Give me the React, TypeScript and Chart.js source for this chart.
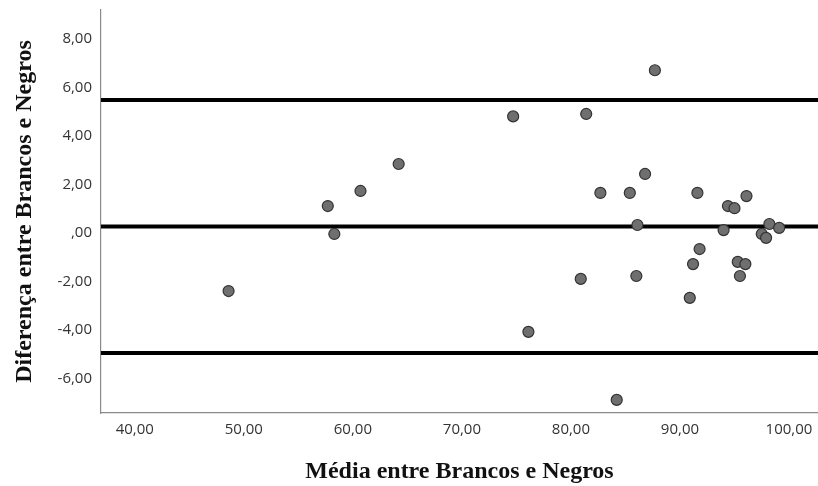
import React, { useEffect, useRef } from "react";
import { Chart, registerables } from "chart.js";

Chart.register(...registerables);

// Média (x) and Diferença (y) for each pair
const meanValues = [
  48.6, 57.7, 58.3, 60.7, 64.2, 74.7, 76.1, 80.9, 81.4, 82.7, 84.2, 85.4, 86.0, 86.1, 86.8, 87.7,
  90.9, 91.2, 91.6, 91.8, 94.0, 94.4, 95.0, 95.3, 95.5, 96.0, 96.1, 97.5, 97.9, 98.2, 99.1,
];
const diffValues = [
  -2.39, 1.11, -0.04, 1.73, 2.84, 4.8, -4.07, -1.89, 4.9, 1.65, -6.87, 1.65, -1.77, 0.33, 2.43, 6.7,
  -2.67, -1.28, 1.65, -0.66, 0.12, 1.11, 1.02, -1.19, -1.77, -1.28, 1.52, -0.04, -0.2, 0.37, 0.21,
];

// Bland-Altman reference lines: upper limit, mean difference, lower limit
const referenceLines = [5.47, 0.27, -4.94];

const xAxisRange = [36.9, 102.66];
const yAxisRange = [-7.41, 9.18];

const xTickValues = [40, 50, 60, 70, 80, 90, 100];
const xTickLabels = ["40,00", "50,00", "60,00", "70,00", "80,00", "90,00", "100,00"];
const yTickValues = [-6, -4, -2, 0, 2, 4, 6, 8];
const yTickLabels = ["-6,00", "-4,00", "-2,00", ",00", "2,00", "4,00", "6,00", "8,00"];

const xTitle = "Média entre Brancos e Negros";
const yTitle = "Diferença entre Brancos e Negros";

export default function App() {
  const canvasRef = useRef<HTMLCanvasElement | null>(null);

  useEffect(() => {
    if (!canvasRef.current) return;
    const points = meanValues.map((x, i) => ({ x, y: diffValues[i] }));
    const lineSets = referenceLines.map((v) => ({
      label: "ref " + v,
      data: [
        { x: xAxisRange[0], y: v },
        { x: xAxisRange[1], y: v },
      ],
      showLine: true,
      borderColor: "#000000",
      borderWidth: 4,
      pointRadius: 0,
      pointHoverRadius: 0,
    }));
    const tickFont = { family: "Open Sans", size: 15 };
    const titleFont = { family: "Liberation Serif", size: 24, weight: "bold" as const };
    const chart = new Chart(canvasRef.current, {
      type: "scatter",
      data: {
        datasets: [
          {
            label: "pontos",
            data: points,
            backgroundColor: "#6f6f6f",
            borderColor: "#333333",
            borderWidth: 1.2,
            pointRadius: 5.5,
          },
          ...lineSets,
        ],
      },
      options: {
        animation: false,
        responsive: true,
        maintainAspectRatio: false,
        layout: { autoPadding: false, padding: { top: 10, right: 0, bottom: 0, left: 0 } },
        plugins: { legend: { display: false }, tooltip: { enabled: false } },
        scales: {
          x: {
            type: "linear",
            min: xAxisRange[0],
            max: xAxisRange[1],
            afterBuildTicks: (scale: any) => {
              scale.ticks = xTickValues.map((v) => ({ value: v }));
            },
            afterFit: (scale: any) => {
              scale.height = 73;
              scale.paddingLeft = 0;
              scale.paddingRight = 0;
            },
            grid: { display: false, drawTicks: false },
            border: { display: true, color: "#8a8a8a", width: 1.2 },
            ticks: {
              padding: 8,
              color: "#333333",
              font: tickFont,
              callback: (value: any) => xTickLabels[xTickValues.indexOf(Number(value))],
            },
            title: {
              display: true,
              text: xTitle,
              color: "#111111",
              font: titleFont,
              padding: { top: 0, bottom: 0 },
            },
          },
          y: {
            type: "linear",
            min: yAxisRange[0],
            max: yAxisRange[1],
            afterBuildTicks: (scale: any) => {
              scale.ticks = yTickValues.map((v) => ({ value: v }));
            },
            afterFit: (scale: any) => {
              scale.width = 101;
              scale.paddingTop = 0;
              scale.paddingBottom = 0;
            },
            grid: { display: false, drawTicks: false },
            border: { display: true, color: "#8a8a8a", width: 1.2 },
            ticks: {
              padding: 9,
              color: "#333333",
              font: tickFont,
              callback: (value: any) => yTickLabels[yTickValues.indexOf(Number(value))],
            },
            title: {
              display: true,
              text: yTitle,
              color: "#111111",
              font: titleFont,
              padding: { top: 10, bottom: 0 },
            },
          },
        },
      },
    });
    return () => chart.destroy();
  }, []);

  return (
    <div style={{ position: "absolute", left: 0, top: 0, width: 818, height: 486, background: "#ffffff" }}>
      <canvas ref={canvasRef} />
    </div>
  );
}
